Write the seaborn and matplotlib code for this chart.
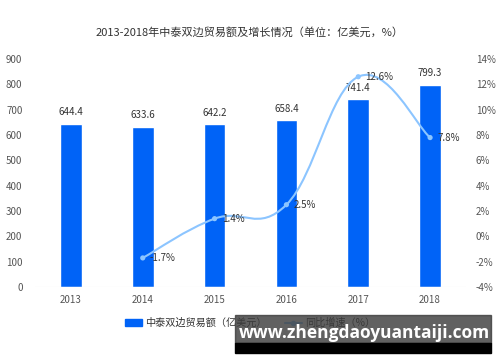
import numpy as np
import pandas as pd
import matplotlib.pyplot as plt
import seaborn as sns
from matplotlib.path import Path
from matplotlib.patches import PathPatch, Rectangle
from matplotlib.lines import Line2D

# data
years = ['2013', '2014', '2015', '2016', '2017', '2018']
trade = [644.4, 633.6, 642.2, 658.4, 741.4, 799.3]
growth_years = ['2014', '2015', '2016', '2017', '2018']
growth = [-1.7, 1.4, 2.5, 12.6, 7.8]
title = '2013-2018年中泰双边贸易额及增长情况（单位：亿美元，%）'
bar_label = '中泰双边贸易额（亿美元）'
line_label = '同比增速（%）'
watermark = 'www.zhengdaoyuantaiji.com'

BAR_COLOR = '#0063F7'
LINE_COLOR = '#8CC5FF'
TICK_COLOR = '#555555'

sns.set_style('white')
plt.rcParams['font.family'] = ['Noto Sans CJK SC', 'DejaVu Sans']

df = pd.DataFrame({'year': years, 'trade': trade})

fig = plt.figure(figsize=(5, 3.62), dpi=100)
ax = fig.add_axes([0.07, 0.207, 0.862, 0.63])
sns.barplot(data=df, x='year', y='trade', color=BAR_COLOR, width=0.3,
            saturation=1, ax=ax)
ax.set_ylim(0, 900)
ax.set_yticks(range(0, 901, 100))
ax.set_xlim(-0.5, len(years) - 0.5)
ax.set_xlabel('')
ax.set_ylabel('')
for s in ax.spines.values():
    s.set_visible(False)
ax.axhline(0, color='#dddddd', lw=0.8)
ax.tick_params(axis='both', labelsize=7, colors=TICK_COLOR, length=0, pad=6)
ax.tick_params(axis='y', pad=9)
for i, v in enumerate(trade):
    ax.text(i, v + 25, f'{v:.1f}', ha='center', va='bottom', fontsize=7,
            color='#333333')

# growth line on secondary axis
ax2 = ax.twinx()
ax2.set_ylim(-4, 14)
ax2.set_yticks(range(-4, 15, 2))
ax2.set_yticklabels([f'{t}%' for t in range(-4, 15, 2)])
for s in ax2.spines.values():
    s.set_visible(False)
ax2.tick_params(axis='y', labelsize=7, colors=TICK_COLOR, length=0, pad=7)

gx = np.array([years.index(y) for y in growth_years], dtype=float)
gy = np.array(growth, dtype=float)

# smooth curve through the points (Catmull-Rom as cubic Bezier)
verts = [(gx[0], gy[0])]
codes = [Path.MOVETO]
n = len(gx)
t = 0.2
for i in range(n - 1):
    p0 = (gx[max(i - 1, 0)], gy[max(i - 1, 0)])
    p1 = (gx[i], gy[i])
    p2 = (gx[i + 1], gy[i + 1])
    p3 = (gx[min(i + 2, n - 1)], gy[min(i + 2, n - 1)])
    c1 = (p1[0] + (p2[0] - p0[0]) * t, p1[1] + (p2[1] - p0[1]) * t)
    c2 = (p2[0] - (p3[0] - p1[0]) * t, p2[1] - (p3[1] - p1[1]) * t)
    verts += [c1, c2, p2]
    codes += [Path.CURVE4] * 3
ax2.add_patch(PathPatch(Path(verts, codes), fill=False, edgecolor=LINE_COLOR,
                        lw=1.5, zorder=3))
sns.scatterplot(x=gx, y=gy, color=LINE_COLOR, s=14, edgecolor='none',
                zorder=4, ax=ax2)
for xx, yy in zip(gx, gy):
    ax2.text(xx + 0.1, yy, f'{yy:.1f}%', ha='left', va='center', fontsize=7,
             color='#333333', zorder=5)
ax2.set_xlim(-0.5, len(years) - 0.5)

fig.suptitle(title, x=0.5, y=0.925, fontsize=8, color='#333333')

handles = [Rectangle((0, 0), 1, 1, color=BAR_COLOR),
           Line2D([0], [0], color=LINE_COLOR, lw=1.5, marker='o',
                  markersize=3)]
fig.legend(handles, [bar_label, line_label], loc='center',
           bbox_to_anchor=(0.5, 0.108), ncol=2, frameon=False, fontsize=7.3,
           handlelength=1.7, handleheight=0.6, handletextpad=0.3,
           columnspacing=1.8, labelcolor='#333333')

# watermark banner
fig.patches.append(Rectangle((235 / 500, 1 - 343 / 362), 256 / 500, 28 / 362,
                             transform=fig.transFigure, color='#3a3a3a',
                             alpha=0.8, zorder=10))
fig.patches.append(Rectangle((235 / 500, 1 - 353 / 362), 256 / 500, 10 / 362,
                             transform=fig.transFigure, color='black',
                             zorder=10))
fig.text(364 / 500, 1 - 333 / 362, watermark, ha='center', va='center',
         fontsize=12.5, color='white', fontweight='bold', family='Open Sans',
         zorder=11)

fig.savefig('out.png', dpi=100)
